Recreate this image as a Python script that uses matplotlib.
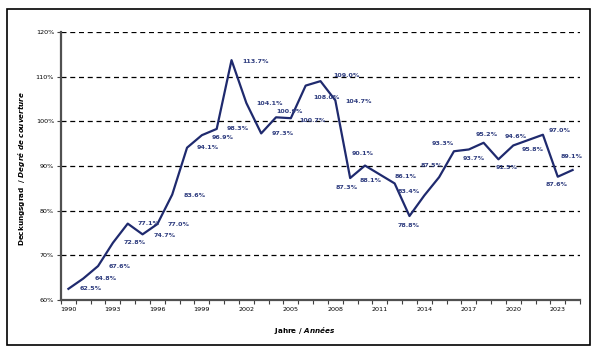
import matplotlib.pyplot as plt
from matplotlib.patches import Rectangle

plt.rcParams['mathtext.fontset'] = 'custom'
plt.rcParams['mathtext.it'] = 'DejaVu Sans:italic:bold'
plt.rcParams['mathtext.rm'] = 'DejaVu Sans:bold'

# Deckungsgrad / degré de couverture, 1990-2024
years = list(range(1990, 2025))
coverage = [62.5, 64.8, 67.6, 72.8, 77.1, 74.7, 77.0, 83.6, 94.1, 96.9,
            98.3, 113.7, 104.1, 97.3, 100.9, 100.7, 108.0, 109.0, 104.7, 87.3,
            90.1, 88.1, 86.1, 78.8, 83.4, 87.5, 93.3, 93.7, 95.2, 91.5,
            94.6, 95.8, 97.0, 87.6, 89.1]
label_years = [1990, 1993, 1996, 1999, 2002, 2005, 2008, 2011, 2014, 2017, 2020, 2023]
y_ticks = [60, 70, 80, 90, 100, 110, 120]

# label offsets in pixels (dx right, dy down), as placed in the original chart
label_offsets = [(22, 0), (22, 0), (22, 0), (22, 0), (21, 0), (22, 1), (21, 0), (22, 1),
                 (21, 0), (21, 2), (21, 0), (24, 1), (23, 0), (22, 0), (14, -6), (22, 2),
                 (21, 12), (26, -6), (23, 1), (-3, 9), (-2, -12), (-9, 6), (11, -7), (-1, 9),
                 (-16, -4), (-8, -12), (-11, -8), (5, 9), (3, -8), (8, 8), (2, -9), (5, 9),
                 (17, -4), (-1, 8), (-1, -14)]

navy = '#1f2a6e'
label_col = '#2e3c7e'

fig = plt.figure(figsize=(6, 3.55), dpi=100)
ax = fig.add_axes([61 / 600, 1 - 300 / 355, 519 / 600, 268 / 355])

x = list(range(len(years)))
ax.plot(x, coverage, color=navy, lw=1.6, zorder=3)

for i, v in enumerate(coverage):
    dx, dy = label_offsets[i]
    ax.annotate(f'{v:.1f}%', (i, v), xytext=(dx, -dy), textcoords='offset pixels',
                ha='center', va='center', fontsize=4.6, fontweight='bold',
                color=label_col, zorder=4)

ax.set_xlim(-0.5, len(years) - 0.5)
ax.set_ylim(60, 120)
ax.set_yticks(y_ticks)
ax.set_yticklabels([f'{t}%' for t in y_ticks], fontsize=4.6)
for t in y_ticks[1:]:
    ax.axhline(t, color='black', lw=0.9, ls=(0, (4, 3)), zorder=1)

ax.set_xticks([years.index(y) for y in label_years])
ax.set_xticklabels([str(y) for y in label_years], fontsize=4.6)
ax.set_xticks([i - 0.5 for i in range(len(years) + 1)], minor=True)
ax.tick_params(axis='x', which='major', length=0, pad=5)
ax.tick_params(axis='x', which='minor', length=3, width=0.8, color='#404040')
ax.tick_params(axis='y', length=3, width=0.8, color='#404040', pad=2)

for s in ['top', 'right']:
    ax.spines[s].set_visible(False)
for s in ['left', 'bottom']:
    ax.spines[s].set_color('#505050')
    ax.spines[s].set_linewidth(1.6)

fig.text(0.508, 1 - 330 / 355, r'Jahre / $\it{Années}$', ha='center', va='center',
         fontsize=5.2, fontweight='bold')
fig.text(22 / 600, 1 - 168 / 355, r'Deckungsgrad  / $\it{Degré\ de\ couverture}$',
         rotation=90, ha='center', va='center', fontsize=5.2, fontweight='bold')

fig.patches.append(Rectangle((7 / 600, 1 - 345 / 355), 583 / 600, 336 / 355,
                             transform=fig.transFigure, fill=False,
                             edgecolor='black', lw=1.2))

fig.savefig('out.png', dpi=100)
